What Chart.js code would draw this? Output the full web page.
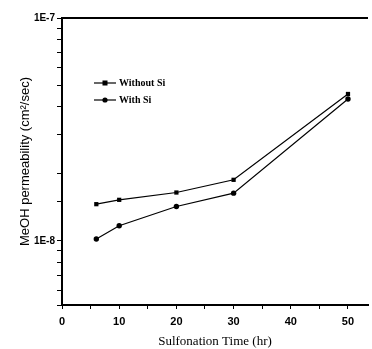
<!DOCTYPE html>
<html lang="en">
<head>
  <meta charset="UTF-8" />
  <title>MeOH permeability vs sulfonation time</title>
  <script src="https://cdn.jsdelivr.net/npm/chart.js"></script>
  <style>
    html, body { margin: 0; padding: 0; background: #fff; overflow: hidden; }
    #wrap { width: 372px; height: 349px; }
  </style>
</head>
<body>
<div id="wrap"><canvas id="chart"></canvas></div>
<script>
// data
const times = [6, 10, 20, 30, 50];
const withoutSi = [1.46e-8, 1.527e-8, 1.647e-8, 1.878e-8, 4.56e-8];
const withSi = [1.018e-8, 1.168e-8, 1.425e-8, 1.636e-8, 4.33e-8];
const seriesLabels = ['Without Si', 'With Si'];
const xTickLabels = [0, 10, 20, 30, 40, 50];
const yTickLabels = ['1E-8', '1E-7'];

const pts = ys => times.map((t, i) => ({ x: t, y: ys[i] }));

// top frame line + legend drawn inside the plot
const frame = {
  id: 'frame',
  afterDraw(chart) {
    const { ctx, chartArea: a } = chart;
    ctx.save();
    ctx.strokeStyle = '#000';
    ctx.lineWidth = 2;
    ctx.beginPath();
    ctx.moveTo(a.left, a.top);
    ctx.lineTo(a.right, a.top);
    ctx.stroke();

    // legend
    const lx = 94, ly = 83, gap = 17;
    chart.data.datasets.forEach((ds, i) => {
      const y = ly + i * gap;
      ctx.lineWidth = 1.2;
      ctx.beginPath();
      ctx.moveTo(lx, y); ctx.lineTo(lx + 22, y);
      ctx.stroke();
      ctx.fillStyle = '#000';
      if (ds.pointStyle === 'rect') ctx.fillRect(lx + 8.5, y - 2.5, 5, 5);
      else { ctx.beginPath(); ctx.arc(lx + 11, y, 2.6, 0, Math.PI * 2); ctx.fill(); }
      ctx.font = 'bold 10px "Liberation Serif"';
      ctx.textBaseline = 'middle';
      ctx.fillText(ds.label, lx + 25, y);
    });
    ctx.restore();
  }
};

new Chart(document.getElementById('chart'), {
  type: 'line',
  data: {
    datasets: [
      { label: seriesLabels[0], data: pts(withoutSi), pointStyle: 'rect', pointRadius: 3, backgroundColor: '#000' },
      { label: seriesLabels[1], data: pts(withSi), pointStyle: 'circle', pointRadius: 2.7, backgroundColor: '#000' }
    ].map(d => Object.assign(d, { borderColor: '#000', borderWidth: 1.2, pointBorderWidth: 0, tension: 0 }))
  },
  options: {
    responsive: true,
    maintainAspectRatio: false,
    animation: false,
    layout: { padding: { top: 18, right: 0, left: 0, bottom: 0 } },
    plugins: { legend: { display: false }, tooltip: { enabled: false } },
    scales: {
      x: {
        type: 'linear',
        min: 0, max: 53.5,
        afterFit(s) { s.height = 44; },
        border: { color: '#000', width: 2 },
        grid: { drawOnChartArea: false, tickLength: 4, color: '#000', tickWidth: 1 },
        ticks: {
          stepSize: 5, includeBounds: false, padding: 6, maxRotation: 0,
          color: '#000', font: { family: 'Liberation Sans', size: 11, weight: 'bold' },
          callback: v => xTickLabels.includes(v) ? String(v) : ''
        },
        title: {
          display: true, text: 'Sulfonation Time (hr)', color: '#000',
          font: { family: 'Liberation Serif', size: 13 }, padding: { top: 0, bottom: 0 }
        }
      },
      y: {
        type: 'logarithmic',
        min: 5.15e-9, max: 1e-7,
        afterFit(s) { s.width = 62; },
        border: { color: '#000', width: 2 },
        grid: { drawOnChartArea: false, tickLength: 5, color: '#000', tickWidth: 1 },
        ticks: {
          padding: 2, autoSkip: false,
          color: '#000', font: { family: 'Liberation Sans', size: 10, weight: 'bold' },
          callback: v => {
            const e = Math.log10(v);
            if (Math.abs(e - Math.round(e)) > 1e-6) return '';
            const lab = '1E' + Math.round(e);
            return yTickLabels.includes(lab) ? lab : '';
          }
        },
        title: {
          display: true, text: 'MeOH permeability (cm²/sec)', color: '#000',
          font: { family: 'Liberation Sans', size: 13 }, padding: { top: 18, bottom: 0 }
        }
      }
    }
  },
  plugins: [frame]
});
</script>
</body>
</html>
